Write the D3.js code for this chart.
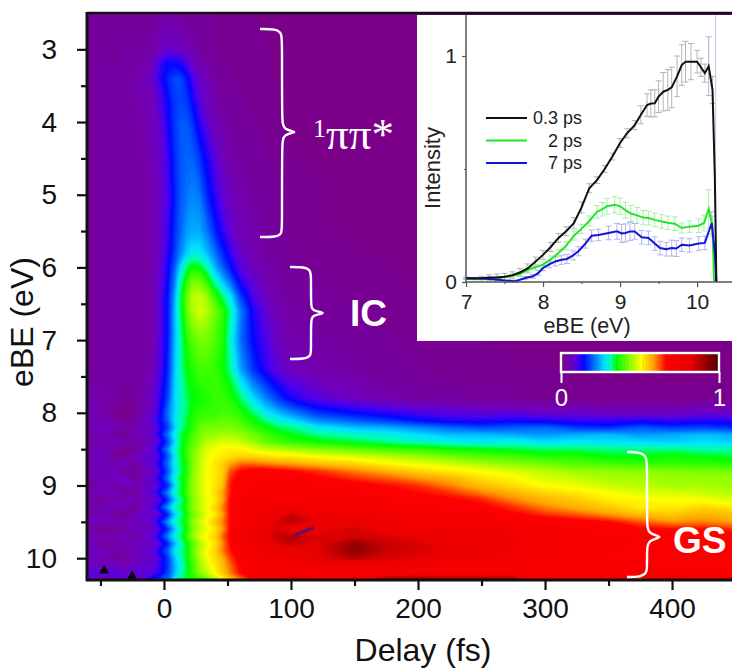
<!DOCTYPE html>
<html>
<head>
<meta charset="utf-8">
<script src="https://cdn.jsdelivr.net/npm/d3@7"></script>
<style>
  html, body { margin: 0; padding: 0; background: white; }
  svg { display: block; }
  text { font-family: "Liberation Sans", Arial, sans-serif; }
</style>
</head>
<body>
<svg id="plot"></svg>
<script>
// Map grid: delay (fs) across, eBE (eV) down, intensity in percent of the maximum
const delays = [-61,-48,-38,-30,-22,-15,-8,-3,3,8, 13,18,22,28,34,40,46,52,60,70, 80,90,100,120,150,175,200,225,250,275, 300,325,350,375,400,425,450];
const ebeRows = [2.5,3,3.2,3.4,3.7,4,4.5,5,5.5,5.8,6,6.2,6.4,6.6,7,7.4,7.8,8,8.1,8.2,8.3,8.4,8.5,8.6,8.7,8.8,8.9,9,9.1,9.2,9.3,9.4,9.5,9.6,9.7,9.8,9.9,10,10.1,10.2,10.3];
const heat = [
  [2,2,2,2,2,2,2,3,3,3, 3,2,2,2,2,1,1,1,1,1, 0,0,0,0,0,0,0,0,0,0, 0,0,0,0,0,0,0],
  [2,2,2,3,3,3,4,6,7,7, 6,5,4,3,2,2,1,1,1,1, 1,0,0,0,0,0,0,0,0,0, 0,0,0,0,0,0,0],
  [2,3,3,3,3,4,7,11,14,14, 13,10,7,5,3,2,2,1,1,1, 1,0,0,0,0,0,0,0,0,0, 0,0,0,0,0,0,0],
  [2,3,3,3,4,5,8,12,16,18, 18,15,11,7,5,3,2,2,1,1, 1,0,0,0,0,0,0,0,0,0, 0,0,0,0,0,0,0],
  [2,3,3,3,4,4,6,9,14,17, 18,17,14,9,6,4,3,2,2,1, 1,1,0,0,0,0,0,0,0,0, 0,0,0,0,0,0,0],
  [2,3,3,3,3,4,6,8,13,17, 19,19,17,12,8,5,4,3,2,2, 1,1,0,0,0,0,0,0,0,0, 0,0,0,0,0,0,0],
  [2,3,3,3,3,4,5,7,11,16, 19,20,20,17,13,9,6,4,3,2, 2,1,1,0,0,0,0,0,0,0, 0,0,0,0,0,0,0],
  [2,3,3,3,3,3,5,7,10,15, 19,21,22,21,16,12,8,6,4,3, 2,2,1,1,0,0,0,0,0,0, 0,0,0,0,0,0,0],
  [2,3,3,3,3,3,5,7,11,16, 20,23,24,24,21,16,12,8,5,4, 3,2,1,1,0,0,0,0,0,0, 0,0,0,0,0,0,0],
  [2,3,3,3,3,3,5,7,12,17, 22,26,28,28,25,21,16,12,7,5, 3,2,2,1,1,0,0,0,0,0, 0,0,0,0,0,0,0],
  [2,3,3,3,3,3,5,8,13,19, 27,33,36,35,31,25,20,15,9,6, 4,3,2,1,1,1,0,0,0,0, 0,0,0,0,0,0,0],
  [2,3,3,3,3,3,5,8,14,21, 31,38,42,42,38,31,26,21,13,8, 5,3,2,2,1,1,0,0,0,0, 0,0,0,0,0,0,0],
  [2,3,3,3,3,3,5,9,15,23, 33,41,46,47,44,38,33,28,18,10, 6,4,3,2,1,1,1,0,0,0, 0,0,0,0,0,0,0],
  [2,3,3,3,3,3,5,9,15,24, 33,41,45,48,46,42,38,32,22,13, 8,5,3,2,2,1,1,0,0,0, 0,0,0,0,0,0,0],
  [2,3,3,3,3,3,5,9,15,24, 31,37,40,42,42,40,37,30,21,14, 10,6,4,3,2,2,1,1,1,0, 0,0,0,0,0,0,0],
  [2,3,3,3,3,3,6,10,16,25, 31,35,37,39,39,38,36,32,24,17, 12,8,6,4,3,2,2,1,1,1, 1,0,0,0,0,0,0],
  [4,4,3,2,3,5,7,12,18,26, 30,33,35,36,37,38,38,37,33,27, 22,17,13,9,6,4,3,3,2,2, 1,1,1,1,1,1,1],
  [4,4,2,0,2,5,8,13,21,26, 30,33,36,38,38,38,39,39,37,33, 28,25,22,17,14,12,10,9,8,8, 7,7,6,6,6,7,6],
  [4,5,3,1,3,6,9,14,20,27, 31,34,37,39,40,40,41,41,39,36, 32,29,27,22,19,17,14,12,12,13, 12,11,11,12,11,12,12],
  [5,6,5,4,5,6,8,12,18,25, 31,34,37,41,42,42,42,42,41,38, 36,33,32,28,25,24,22,20,18,19, 20,17,16,19,17,18,16],
  [3,5,2,1,5,6,8,14,21,28, 33,36,39,42,44,44,45,45,44,42, 39,37,35,32,30,29,27,25,25,24, 23,24,25,23,24,25,24],
  [1,5,6,5,4,6,7,11,18,26, 33,37,40,43,46,47,48,48,47,44, 41,39,38,36,34,32,30,29,28,29, 27,28,27,27,26,27,26],
  [4,6,3,1,2,6,9,15,22,29, 34,38,41,45,48,50,51,51,51,49, 47,46,45,43,41,39,38,36,35,34, 33,33,32,32,32,31,31],
  [5,6,1,3,6,7,8,12,19,27, 33,38,42,46,49,51,52,53,54,54, 53,52,52,50,48,46,44,42,40,39, 37,37,35,35,36,35,34],
  [3,5,5,6,3,7,8,14,21,28, 33,37,42,46,50,52,54,58,61,61, 60,59,58,56,54,51,49,47,45,43, 42,40,39,38,38,38,37],
  [5,6,5,2,4,6,7,11,19,27, 32,37,42,47,50,52,54,62,66,68, 68,67,66,64,60,57,54,52,50,48, 46,44,44,43,43,42,42],
  [2,5,6,6,2,6,9,14,21,29, 34,38,43,47,50,52,55,64,68,69, 69,69,69,67,64,62,59,57,53,51, 48,47,45,45,44,44,44],
  [1,5,3,6,5,7,7,11,17,26, 33,38,43,47,50,52,56,65,69,70, 71,71,71,70,68,66,64,60,56,53, 50,49,47,46,45,45,44],
  [4,6,6,2,3,7,9,15,22,29, 34,39,43,47,50,53,58,65,69,71, 72,72,72,71,70,68,66,64,60,57, 54,52,50,48,48,47,46],
  [5,2,4,6,6,6,7,10,17,25, 31,37,42,46,49,52,57,66,70,71, 72,72,72,72,72,70,68,67,65,60, 57,55,52,51,50,50,48],
  [3,6,6,5,2,7,9,16,23,30, 33,38,43,47,50,54,60,66,71,74, 75,76,76,74,72,72,70,69,67,64, 60,57,55,52,52,54,52],
  [1,5,2,2,6,7,7,10,16,25, 31,36,41,45,49,52,58,66,71,75, 77,78,86,78,76,74,72,71,70,67, 64,62,59,56,55,57,56],
  [6,6,6,5,5,7,9,15,23,29, 33,38,43,47,51,55,60,66,72,75, 78,84,88,82,80,77,74,72,72,71, 70,68,66,62,59,60,58],
  [3,1,2,3,6,6,7,11,17,25, 31,36,42,46,49,53,58,66,72,76, 80,84,78,80,84,78,76,76,76,74, 71,70,69,67,66,66,64],
  [6,5,6,6,3,7,9,15,22,28, 33,38,43,48,51,54,61,67,73,77, 81,86,88,84,84,84,80,78,78,76, 72,71,70,68,68,67,68],
  [5,2,3,5,6,6,7,10,16,24, 30,35,40,45,49,53,59,66,72,76, 79,84,86,82,92,86,84,80,80,76, 72,71,70,70,68,68,67],
  [6,6,5,4,6,7,9,14,20,27, 31,35,40,46,50,54,60,65,71,74, 76,78,80,82,92,86,84,82,80,74, 72,70,70,68,68,68,69],
  [7,5,1,3,6,7,6,11,17,25, 30,35,39,45,50,53,57,63,68,72, 76,78,80,82,88,84,82,78,76,74, 72,71,70,69,69,68,68],
  [6,6,7,5,7,7,8,12,17,24, 29,34,38,44,48,52,56,61,67,72, 74,74,74,75,76,76,75,74,72,72, 71,70,70,70,69,69,68],
  [9,8,8,7,8,8,9,12,18,24, 30,34,38,43,47,51,55,60,66,72, 72,72,72,72,72,72,72,71,70,70, 70,70,70,70,70,70,70],
  [12,2,10,6,2,10,17,18,20,28, 33,34,36,38,40,44,50,55,60,66, 70,75,85,75,75,95,95,95,95,95, 72,72,72,60,85,72,85]
];

// Small dark artefacts in the map: triangles at the bottom left, one streak in the red area
const specDelay = [-47, -25];
const specEbe = [10.17, 10.25];
const streakDelay = [103, 118];
const streakEbe = [9.68, 9.58];

// Inset spectra
const blackE = [7,7.1,7.2,7.3,7.4,7.5,7.6,7.7,7.8,7.9,8,8.1,8.2,8.3,8.4,8.5,8.6,8.7,8.8,8.9,9,9.09,9.19,9.27,9.35,9.4,9.45,9.5,9.56,9.62,9.67,9.74,9.8,9.85,9.92,10,10.05,10.1,10.15,10.2,10.23,10.25];
const blackI = [.015,.015,.017,.02,.02,.023,.03,.042,.06,.09,.12,.155,.195,.225,.26,.33,.415,.451,.5,.555,.615,.658,.694,.74,.783,.79,.791,.82,.842,.85,.861,.91,.96,.975,.975,.975,.95,.924,.955,.85,.466,0];
const blackErr = [.004,.005,.008,.012,.015,.015,.015,.018,.02,.02,.02,.02,.02,.02,.025,.025,.02,.015,.015,.015,.02,.02,.02,.04,.05,.06,.06,.07,.085,.09,.09,.09,.09,.09,.08,.05,.04,.04,.13,.06,0,0];
const greenE = [7,7.2,7.4,7.6,7.7,7.81,7.9,8,8.1,8.2,8.3,8.4,8.5,8.6,8.7,8.77,8.83,8.93,9,9.07,9.14,9.22,9.3,9.37,9.45,9.54,9.62,9.71,9.8,9.9,10.02,10.09,10.15,10.2,10.22];
const greenI = [.016,.016,.018,.026,.035,.055,.065,.077,.1,.128,.16,.205,.235,.27,.31,.322,.335,.342,.335,.318,.303,.295,.285,.283,.275,.268,.262,.258,.239,.245,.249,.261,.323,.246,.003];
const greenErr = [.004,.005,.006,.008,.008,.01,.012,.014,.015,.015,.018,.02,.02,.022,.028,.03,.034,.036,.036,.035,.035,.035,.032,.03,.03,.03,.03,.03,.022,.025,.03,.035,.085,.045,0];
const blueE = [7,7.2,7.42,7.55,7.64,7.77,7.87,7.94,8,8.08,8.16,8.24,8.31,8.39,8.46,8.55,8.63,8.72,8.85,8.96,9.02,9.07,9.13,9.19,9.28,9.37,9.45,9.52,9.6,9.67,9.73,9.8,9.9,10.02,10.1,10.19,10.23,10.25];
const blueI = [.018,.015,.01,.005,.003,.018,.025,.04,.062,.078,.091,.098,.102,.118,.136,.17,.205,.208,.217,.224,.215,.217,.224,.224,.198,.195,.17,.15,.145,.15,.148,.165,.162,.17,.173,.261,.128,0];
const blueErr = [.004,.004,.005,.005,.005,.006,.008,.01,.012,.015,.02,.02,.02,.02,.02,.02,.025,.025,.03,.035,.04,.04,.04,.035,.03,.03,.03,.03,.03,.035,.035,.03,.03,.03,.03,.05,0,0];

const legendLabels = ['0.3 ps', '2 ps', '7 ps'];
const legendColors = ['#111111', '#22e62a', '#1414d8'];
const errColors = ['#b4b4b4', '#a9efac', '#b4b4f0'];

// Colour stops of the rainbow bar
const colorStops = [0, 6, 10, 14, 20, 27, 31, 35, 43, 50, 58, 66, 82, 90, 100];
const colorValues = ['#7a008a','#6e00c0','#4a00f0','#0008ff','#0068ff','#00e4ff','#00ffa8','#00ff00','#88ff00','#ffff00','#ffa400','#ff0000','#e80000','#a00000','#4c0000'];

const width = 732, height = 668;

let svg = d3.select('#plot')
  .attr('width', width)
  .attr('height', height)
  .style('background', 'white');

let xScale = d3.scaleLinear().domain([-60.6, 447.2]).range([87, 732]);
let yScale = d3.scaleLinear().domain([2.5, 10.3]).range([13, 580]);
let colorScale = d3.scaleLinear().domain(colorStops).range(colorValues).clamp(true);

// grid index -> data value, the grid is not evenly spaced
let colIndex = d3.scaleLinear().domain(d3.range(delays.length)).range(delays).clamp(true);
let rowIndex = d3.scaleLinear().domain(d3.range(ebeRows.length)).range(ebeRows).clamp(true);

svg.append('clipPath').attr('id', 'mapClip')
  .append('rect').attr('x', 87).attr('y', 13).attr('width', 645).attr('height', 567);

let contours = d3.contours()
  .size([delays.length, ebeRows.length])
  .smooth(true)
  .thresholds(d3.range(-1, 100, 0.5))(heat.flat());

let project = d3.geoTransform({
  point: function(x, y) {
    this.stream.point(xScale(colIndex(x - 0.5)), yScale(rowIndex(y - 0.5)));
  }
});

let mapLayer = svg.append('g').attr('clip-path', 'url(#mapClip)');

mapLayer.selectAll('path.band')
  .data(contours)
  .enter()
  .append('path')
  .attr('class', 'band')
  .attr('d', d3.geoPath(project))
  .attr('fill', d => colorScale(d.value));

mapLayer.selectAll('path.spec')
  .data(d3.zip(specDelay, specEbe))
  .enter()
  .append('path')
  .attr('class', 'spec')
  .attr('transform', d => `translate(${xScale(d[0])},${yScale(d[1])})`)
  .attr('d', d3.symbol(d3.symbolTriangle, 45))
  .attr('fill', '#0a0010');

mapLayer.append('line')
  .attr('x1', xScale(streakDelay[0])).attr('x2', xScale(streakDelay[1]))
  .attr('y1', yScale(streakEbe[0])).attr('y2', yScale(streakEbe[1]))
  .attr('stroke', '#5a1070').attr('stroke-width', 3);

// Main axes
function styleAxis(g) {
  g.select('.domain').remove();
  g.selectAll('line').attr('stroke', '#111').attr('stroke-width', 2.2);
  g.selectAll('text').attr('font-size', 28).attr('fill', '#111');
}

svg.append('g')
  .attr('transform', 'translate(87,0)')
  .call(d3.axisLeft(yScale).tickValues([3,4,5,6,7,8,9,10]).tickSize(10).tickPadding(20).tickFormat(d3.format('d')))
  .call(styleAxis);
svg.append('g')
  .attr('transform', 'translate(87,0)')
  .call(d3.axisLeft(yScale).tickValues([3.5,4.5,5.5,6.5,7.5,8.5,9.5]).tickSize(6).tickFormat(''))
  .call(styleAxis);
svg.append('g')
  .attr('transform', 'translate(0,580)')
  .call(d3.axisBottom(xScale).tickValues([0,100,200,300,400]).tickSize(10).tickPadding(8).tickFormat(d3.format('d')))
  .call(styleAxis);
svg.append('g')
  .attr('transform', 'translate(0,580)')
  .call(d3.axisBottom(xScale).tickValues([-50,50,150,250,350]).tickSize(6).tickFormat(''))
  .call(styleAxis);

svg.append('line').attr('x1', 87).attr('x2', 732).attr('y1', 13).attr('y2', 13).attr('stroke', '#111').attr('stroke-width', 2.5);
svg.append('line').attr('x1', 87).attr('x2', 87).attr('y1', 12).attr('y2', 581).attr('stroke', '#111').attr('stroke-width', 3);
svg.append('line').attr('x1', 86).attr('x2', 732).attr('y1', 580).attr('y2', 580).attr('stroke', '#111').attr('stroke-width', 3);

svg.append('text').attr('x', 423).attr('y', 661).attr('text-anchor', 'middle')
  .attr('font-size', 32).attr('fill', '#111').text('Delay (fs)');
svg.append('text').attr('transform', 'translate(33,322) rotate(-90)').attr('text-anchor', 'middle')
  .attr('font-size', 32).attr('fill', '#111').text('eBE (eV)');

// Brace annotations
let braceLine = d3.line().curve(d3.curveBasis);
const braces = [
  [[260,29],[276,29],[282,33],[282,45],[282,120],[283,130],[300,132],[283,134],[282,144],[282,225],[282,234],[276,237],[260,237]],
  [[290,267],[304,267],[311,270],[311,280],[311,305],[312,311],[328,313],[312,315],[311,321],[311,350],[311,356],[304,359],[290,359]],
  [[627,452],[640,452],[647,457],[647,466],[647,525],[648,534],[665,537],[648,540],[647,549],[647,565],[647,573],[640,577],[627,577]]
];
svg.append('g').selectAll('path')
  .data(braces)
  .enter()
  .append('path')
  .attr('d', braceLine)
  .attr('fill', 'none')
  .attr('stroke', 'white')
  .attr('stroke-width', 2.4);

let pipi = svg.append('text').attr('x', 313).attr('y', 149).attr('fill', 'white')
  .style('font-family', '"Liberation Serif", serif').attr('font-size', 45);
pipi.append('tspan').attr('font-size', 26).attr('dy', -12).text('1');
pipi.append('tspan').attr('dy', 12).text('ππ');
pipi.append('tspan').text('*');

svg.append('text').attr('x', 350).attr('y', 326).attr('fill', 'white')
  .attr('font-size', 37).attr('font-weight', 'bold').text('IC');
svg.append('text').attr('x', 673).attr('y', 553).attr('fill', 'white')
  .attr('font-size', 37).attr('font-weight', 'bold').text('GS');

// Colour bar
let barScale = d3.scaleLinear().domain([0, 100]).range([561, 719]);
svg.append('g').selectAll('rect')
  .data(d3.range(0, 100))
  .enter()
  .append('rect')
  .attr('x', d => barScale(d))
  .attr('y', 353)
  .attr('width', d => barScale(d + 1) - barScale(d) + 0.5)
  .attr('height', 19)
  .attr('fill', d => colorScale(d));
svg.append('rect').attr('x', 561).attr('y', 353).attr('width', 158).attr('height', 19)
  .attr('fill', 'none').attr('stroke', 'white').attr('stroke-width', 2.4);
let barAxis = svg.append('g')
  .attr('transform', 'translate(0,372)')
  .call(d3.axisBottom(barScale).tickValues([0, 100]).tickSize(11).tickPadding(6).tickFormat(d => d / 100));
barAxis.select('.domain').remove();
barAxis.selectAll('line').attr('stroke', 'white').attr('stroke-width', 2);
barAxis.selectAll('text').attr('fill', 'white').attr('font-size', 24);

// Inset
svg.append('rect').attr('x', 417).attr('y', 15).attr('width', 315).attr('height', 326).attr('fill', 'white');

let insetX = d3.scaleLinear().domain([7, 11.05]).range([466, 778]);
let insetY = d3.scaleLinear().domain([0, 1]).range([282, 56]);

svg.append('line').attr('x1', insetX(10.24)).attr('x2', insetX(10.24)).attr('y1', 15).attr('y2', 282)
  .attr('stroke', '#c6cfee').attr('stroke-width', 1.2);

let spectra = [
  {e: blackE, i: blackI, err: blackErr},
  {e: greenE, i: greenI, err: greenErr},
  {e: blueE, i: blueI, err: blueErr}
];

spectra.forEach(function(s, k) {
  let g = svg.append('g').attr('stroke', errColors[k]).attr('stroke-width', 1).attr('fill', 'none');
  s.e.forEach(function(e, j) {
    if (!s.err[j]) return;
    let px = insetX(e), top = insetY(s.i[j] + s.err[j]), bot = insetY(s.i[j] - s.err[j]);
    g.append('line').attr('x1', px).attr('x2', px).attr('y1', top).attr('y2', bot);
    g.append('line').attr('x1', px - 3).attr('x2', px + 3).attr('y1', top).attr('y2', top);
    g.append('line').attr('x1', px - 3).attr('x2', px + 3).attr('y1', bot).attr('y2', bot);
  });
});

let specLine = d3.line().x(d => insetX(d[0])).y(d => insetY(d[1]));
[1, 2, 0].forEach(function(k) {
  let s = spectra[k];
  svg.append('path')
    .attr('d', specLine(d3.zip(s.e, s.i)))
    .attr('fill', 'none')
    .attr('stroke', legendColors[k])
    .attr('stroke-width', 2);
});

function styleInset(g) {
  g.select('.domain').remove();
  g.selectAll('line').attr('stroke', '#555').attr('stroke-width', 1.2);
  g.selectAll('text').attr('fill', '#222');
}

let insetBottom = svg.append('g')
  .attr('transform', 'translate(0,282)')
  .call(d3.axisBottom(insetX).tickValues([7,8,9,10]).tickSize(5).tickPadding(7).tickFormat(d3.format('d')))
  .call(styleInset);
insetBottom.selectAll('text').attr('font-size', 21);
svg.append('g')
  .attr('transform', 'translate(0,282)')
  .call(d3.axisBottom(insetX).tickValues([7.5,8.5,9.5]).tickSize(2).tickFormat(''))
  .call(styleInset);
let insetLeft = svg.append('g')
  .attr('transform', 'translate(466,0)')
  .call(d3.axisLeft(insetY).tickValues([0,1]).tickSize(4).tickPadding(5).tickFormat(d3.format('d')))
  .call(styleInset);
insetLeft.selectAll('text').attr('font-size', 21);
svg.append('g')
  .attr('transform', 'translate(466,0)')
  .call(d3.axisLeft(insetY).tickValues([0.5]).tickSize(2).tickFormat(''))
  .call(styleInset);

svg.append('line').attr('x1', 466).attr('x2', 466).attr('y1', 15).attr('y2', 282).attr('stroke', '#555').attr('stroke-width', 1.5);
svg.append('line').attr('x1', 466).attr('x2', 732).attr('y1', 282).attr('y2', 282).attr('stroke', '#555').attr('stroke-width', 1.5);

svg.append('text').attr('x', 587).attr('y', 333).attr('text-anchor', 'middle')
  .attr('font-size', 21.5).attr('fill', '#222').text('eBE (eV)');
svg.append('text').attr('transform', 'translate(440,168) rotate(-90)').attr('text-anchor', 'middle')
  .attr('font-size', 22).attr('fill', '#222').text('Intensity');

// Inset legend
let legendY = d3.scalePoint().domain(legendLabels).range([118, 163]);
legendLabels.forEach(function(label, k) {
  svg.append('line').attr('x1', 486).attr('x2', 527)
    .attr('y1', legendY(label)).attr('y2', legendY(label))
    .attr('stroke', legendColors[k]).attr('stroke-width', 1.8);
  svg.append('text').attr('x', 582).attr('y', legendY(label) + 6).attr('text-anchor', 'end')
    .attr('font-size', 18).attr('fill', '#222').text(label);
});
</script>
</body>
</html>
